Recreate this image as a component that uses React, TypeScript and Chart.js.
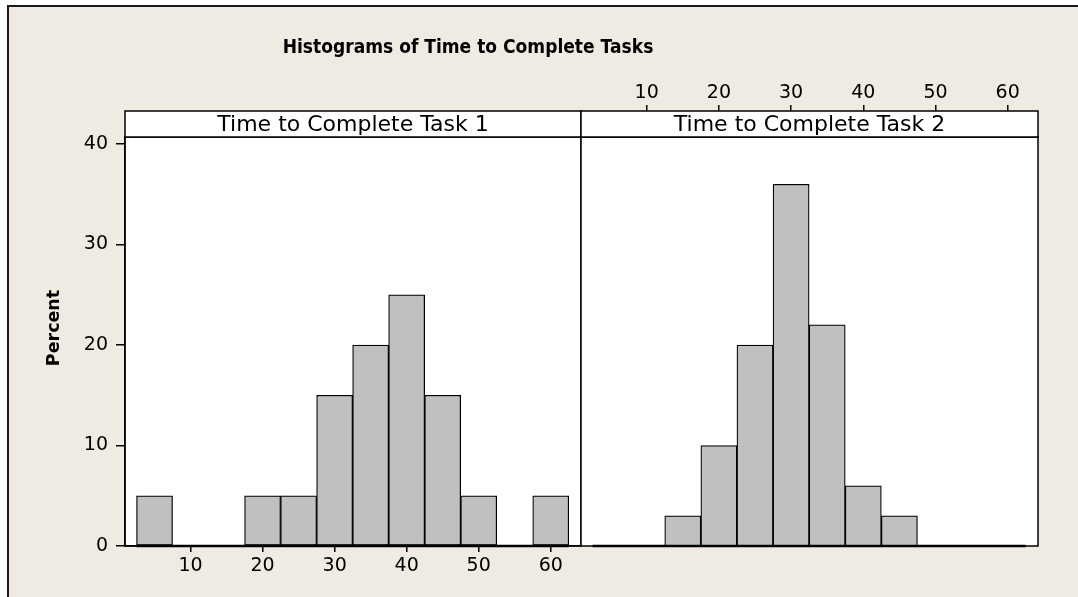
import React, { useEffect, useRef } from 'react';
import { Chart, registerables } from 'chart.js';

Chart.register(...registerables);

// ---- data ----
const BIN_CENTERS = [5, 10, 15, 20, 25, 30, 35, 40, 45, 50, 55, 60];
const BIN_WIDTH = 5;
const TASK1_PERCENT = [5, 0, 0, 5, 5, 15, 20, 25, 15, 5, 0, 5];
const TASK2_PERCENT = [0, 0, 3, 10, 20, 36, 22, 6, 3, 0, 0, 0];
const X_TICKS = [10, 20, 30, 40, 50, 60];
const Y_TICKS = [0, 10, 20, 30, 40];
const PANEL_TITLES = ['Time to Complete Task 1', 'Time to Complete Task 2'];
const MAIN_TITLE = 'Histograms of Time to Complete Tasks';
const Y_LABEL = 'Percent';
const X_MIN = 0.9;
const X_MAX = 64.2;
const Y_MAX = 40.7;

// ---- layout / style ----
const W = 1078;
const H = 597;
const P1_LEFT = 125;
const DIVIDER = 581;
const P2_RIGHT = 1038;
const STRIP_TOP = 111;
const AREA_TOP = 137;
const AREA_BOTTOM = 546;
const FONT = '"DejaVu Sans", Verdana, sans-serif';
const BAR_FILL = '#C0C0C0';
const BG = '#EFEBE2';

function panelPlugin(title: string, first: boolean) {
  return {
    id: 'panelDecor' + (first ? '1' : '2'),
    beforeDraw(chart: any) {
      const { ctx, chartArea: a } = chart;
      ctx.save();
      ctx.fillStyle = '#ffffff';
      ctx.fillRect(a.left, a.top, a.right - a.left, a.bottom - a.top);
      ctx.restore();
    },
    afterDraw(chart: any) {
      const { ctx, chartArea: a, scales } = chart;
      const xs = scales.x;
      const ys = scales.y;
      const y0 = ys.getPixelForValue(0);
      ctx.save();
      // frame
      ctx.strokeStyle = '#000';
      ctx.lineWidth = 1.5;
      ctx.strokeRect(a.left, a.top, a.right - a.left, a.bottom - a.top);
      // baseline across bins
      ctx.lineWidth = 2.5;
      ctx.beginPath();
      ctx.moveTo(xs.getPixelForValue(BIN_CENTERS[0] - BIN_WIDTH / 2), y0);
      ctx.lineTo(xs.getPixelForValue(BIN_CENTERS[BIN_CENTERS.length - 1] + BIN_WIDTH / 2), y0);
      ctx.stroke();
      // strip
      ctx.lineWidth = 1.5;
      ctx.fillStyle = '#ffffff';
      ctx.fillRect(a.left, STRIP_TOP, a.right - a.left, a.top - STRIP_TOP);
      ctx.strokeRect(a.left, STRIP_TOP, a.right - a.left, a.top - STRIP_TOP);
      ctx.fillStyle = '#000';
      ctx.font = '22px ' + FONT;
      ctx.textAlign = 'center';
      ctx.textBaseline = 'middle';
      ctx.fillText(title, (a.left + a.right) / 2, (STRIP_TOP + a.top) / 2 + 1);
      if (first) {
        ctx.save();
        ctx.translate(468, 48);
        ctx.scale(0.9, 1);
        ctx.font = 'bold 19px ' + FONT;
        ctx.fillText(MAIN_TITLE, 0, 0);
        ctx.restore();
        ctx.translate(54, 328);
        ctx.rotate(-Math.PI / 2);
        ctx.font = 'bold 17.5px ' + FONT;
        ctx.fillText(Y_LABEL, 0, 0);
      }
      ctx.restore();
    },
  };
}

function makeConfig(values: number[], first: boolean): any {
  const tickFont = { family: FONT, size: 19 };
  return {
    type: 'bar',
    data: {
      datasets: [
        {
          data: BIN_CENTERS.map((x, i) => ({ x, y: values[i] })),
          backgroundColor: BAR_FILL,
          borderColor: '#000',
          borderWidth: 1.25,
          borderSkipped: false,
          barPercentage: 1,
          categoryPercentage: 1,
        },
      ],
    },
    options: {
      responsive: false,
      animation: false,
      events: [],
      layout: {
        padding: first
          ? { left: 0, top: AREA_TOP, right: W - DIVIDER, bottom: 0 }
          : { left: DIVIDER, top: 0, right: W - P2_RIGHT, bottom: H - AREA_BOTTOM },
      },
      plugins: { legend: { display: false }, tooltip: { enabled: false }, title: { display: false } },
      scales: {
        x: {
          type: 'linear',
          position: first ? 'bottom' : 'top',
          min: X_MIN,
          max: X_MAX,
          offset: false,
          afterBuildTicks: (s: any) => {
            s.ticks = X_TICKS.map((v) => ({ value: v }));
          },
          afterFit: (s: any) => {
            s.height = first ? H - AREA_BOTTOM : AREA_TOP;
          },
          grid: {
            offset: false,
            drawOnChartArea: false,
            drawTicks: true,
            tickLength: first ? 6 : 6 + (AREA_TOP - STRIP_TOP),
            color: '#000',
            lineWidth: 1.5,
          },
          border: { display: true, color: '#000', width: 1.5 },
          ticks: { color: '#000', font: tickFont, padding: first ? 3 : 1, maxRotation: 0, autoSkip: false },
        },
        y: {
          type: 'linear',
          display: first,
          min: 0,
          max: Y_MAX,
          afterBuildTicks: (s: any) => {
            s.ticks = Y_TICKS.map((v) => ({ value: v }));
          },
          afterFit: (s: any) => {
            if (first) s.width = P1_LEFT;
          },
          grid: { offset: false, drawOnChartArea: false, drawTicks: true, tickLength: 9, color: '#000', lineWidth: 1.5 },
          border: { display: true, color: '#000', width: 1.5 },
          ticks: { color: '#000', font: tickFont, padding: 8 },
        },
      },
    },
    plugins: [panelPlugin(PANEL_TITLES[first ? 0 : 1], first)],
  };
}

export default function App() {
  const ref1 = useRef<HTMLCanvasElement>(null);
  const ref2 = useRef<HTMLCanvasElement>(null);

  useEffect(() => {
    const c1 = new Chart(ref1.current as HTMLCanvasElement, makeConfig(TASK1_PERCENT, true));
    const c2 = new Chart(ref2.current as HTMLCanvasElement, makeConfig(TASK2_PERCENT, false));
    return () => {
      c1.destroy();
      c2.destroy();
    };
  }, []);

  const canvasStyle: React.CSSProperties = { position: 'absolute', left: 0, top: 0, width: W, height: H };
  return (
    <div style={{ position: 'absolute', left: 0, top: 0, width: W, height: H, background: '#fff', overflow: 'hidden' }}>
      <div
        style={{
          position: 'absolute',
          left: 7,
          top: 5,
          width: W - 7,
          height: H - 5,
          boxSizing: 'border-box',
          borderLeft: '2px solid #1a1a1a',
          borderTop: '2px solid #1a1a1a',
          background: BG,
        }}
      />
      <canvas ref={ref1} width={W} height={H} style={canvasStyle} />
      <canvas ref={ref2} width={W} height={H} style={canvasStyle} />
    </div>
  );
}
